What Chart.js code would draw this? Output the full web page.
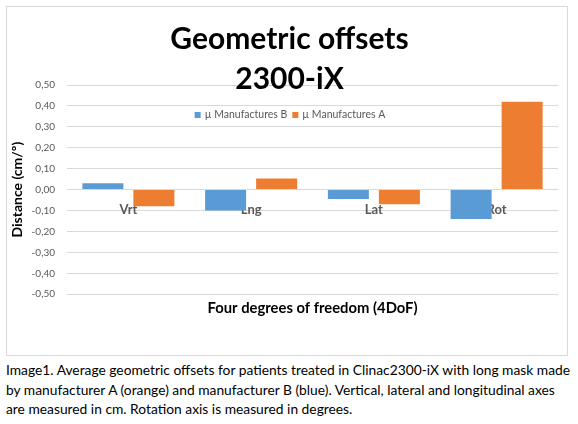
<!DOCTYPE html>
<html>
<head>
<meta charset="utf-8">
<script src="https://cdn.jsdelivr.net/npm/chart.js@4.4.1/dist/chart.umd.min.js"></script>
<style>
  html, body { margin: 0; padding: 0; background: #fff; }
  body { width: 578px; height: 424px; position: relative; overflow: hidden; }
  #box { position: absolute; left: 6px; top: 6px; width: 562px; height: 350px; border: 1px solid #d9d9d9; box-sizing: border-box; }
  #box canvas { display: block; }
  #caption { position: absolute; left: 6px; top: 360px; font-family: Lato, sans-serif; font-size: 13.8px; line-height: 19.5px; color: #000; white-space: nowrap; }
</style>
</head>
<body>
<div id="box"><canvas id="c" width="560" height="348"></canvas></div>
<div id="caption">Image1. Average geometric offsets for patients treated in Clinac2300-iX with long mask made<br>by manufacturer A (orange) and manufacturer B (blue). Vertical, lateral and longitudinal axes<br>are measured in cm. Rotation axis is measured in degrees.</div>
<script>
const categories = ['Vrt', 'Lng', 'Lat', 'Rot'];
const seriesNames = ['\u00b5 Manufactures B', '\u00b5 Manufactures A'];
const manufacturerB = [0.03, -0.10, -0.045, -0.14];
const manufacturerA = [-0.08, 0.053, -0.07, 0.42];
const yTickMin = -0.5;
const yTickMax = 0.5;
const yTickStep = 0.1;
const titleLines = ['Geometric offsets', '2300-iX'];
const xTitle = 'Four degrees of freedom (4DoF)';
const yTitle = 'Distance (cm/\u00ba)';

const FONT = 'Lato';

const innerLegend = {
  id: 'innerLegend',
  afterDraw(chart) {
    const ctx = chart.ctx;
    ctx.save();
    ctx.font = '10.5px ' + FONT;
    ctx.textBaseline = 'middle';
    ctx.textAlign = 'left';
    const box = 6, gapText = 4, gapItem = 5;
    const items = chart.data.datasets.map(d => ({ label: d.label, color: d.backgroundColor, w: ctx.measureText(d.label).width }));
    let total = 0;
    items.forEach((it, i) => { total += box + gapText + it.w + (i < items.length - 1 ? gapItem : 0); });
    let x = chart.width / 2 + 3 - total / 2;
    const cy = 108;
    items.forEach(it => {
      ctx.fillStyle = it.color;
      ctx.fillRect(x, cy - box / 2, box, box);
      x += box + gapText;
      ctx.fillStyle = '#595959';
      ctx.fillText(it.label, x, cy);
      x += it.w + gapItem;
    });
    ctx.restore();
  }
};

new Chart(document.getElementById('c'), {
  type: 'bar',
  data: {
    labels: categories,
    datasets: [
      { label: seriesNames[0], data: manufacturerB, backgroundColor: '#5B9BD5', categoryPercentage: 0.831, barPercentage: 0.804 },
      { label: seriesNames[1], data: manufacturerA, backgroundColor: '#ED7D31', categoryPercentage: 0.831, barPercentage: 0.804 }
    ]
  },
  options: {
    responsive: false,
    animation: false,
    layout: { padding: { left: 14, right: 9, top: 0, bottom: 38 } },
    plugins: {
      legend: { display: false },
      tooltip: { enabled: false },
      title: {
        display: true,
        text: titleLines,
        color: '#000',
        font: { family: FONT, size: 30, weight: 'bold', lineHeight: 40 / 30 },
        padding: { top: 12, bottom: -14 }
      },
      subtitle: {
        display: true,
        position: 'bottom',
        fullSize: false,
        text: xTitle,
        color: '#000',
        font: { family: FONT, size: 14.8, weight: 'bold', lineHeight: 1.2 },
        padding: { top: 5, bottom: 0 }
      }
    },
    scales: {
      x: {
        position: { y: 0 },
        z: 1,
        grid: { display: false, drawTicks: false },
        border: { display: false },
        ticks: { color: '#595959', font: { family: FONT, size: 13, weight: 'bold' }, padding: 12 },
        afterFit(scale) { scale.height = 0; }
      },
      y: {
        min: yTickMin,
        max: yTickMax,
        grid: { color: '#d9d9d9', lineWidth: 1, drawTicks: false },
        border: { display: false },
        ticks: {
          stepSize: yTickStep,
          color: '#595959',
          font: { family: FONT, size: 10 },
          padding: 12,
          callback: v => v.toFixed(2).replace('.', ',')
        },
        title: {
          display: true,
          text: yTitle,
          color: '#000',
          font: { family: FONT, size: 14, weight: 'bold', lineHeight: 1.2 },
          padding: { top: -12, bottom: 0 }
        },
        afterFit(scale) { scale.width = 46; }
      }
    }
  },
  plugins: [innerLegend]
});
</script>
</body>
</html>
